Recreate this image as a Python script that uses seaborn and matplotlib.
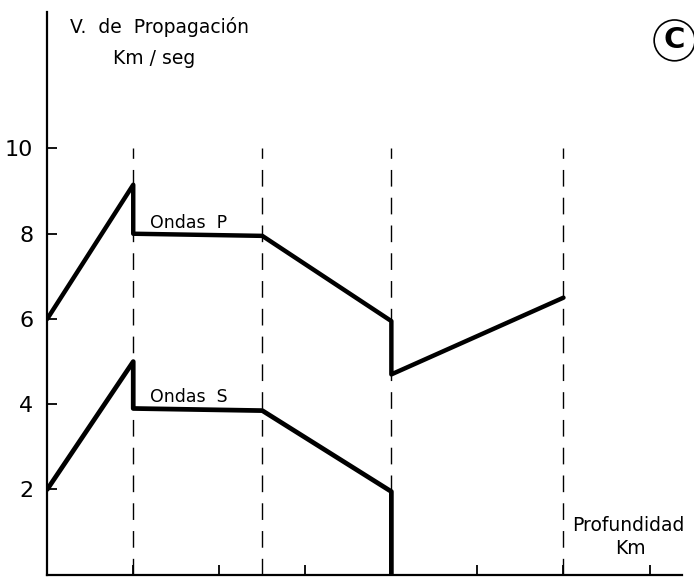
import matplotlib
matplotlib.use("Agg")
import matplotlib.pyplot as plt
import seaborn as sns
import numpy as np

sns.set_style("white")
plt.rcParams['font.family'] = ['DejaVu Sans']
plt.rcParams['text.color'] = 'black'
plt.rcParams['xtick.color'] = 'black'
plt.rcParams['ytick.color'] = 'black'

# Depth (schematic units) and velocities (km/s)
p_depth = [0, 1, 1, 2.5, 4, 4, 6]
p_vel = [6.0, 9.15, 8.0, 7.95, 5.95, 4.7, 6.5]
s_depth = [0, 1, 1, 2.5, 4, 4]
s_vel = [2.0, 5.0, 3.9, 3.85, 1.95, 0.0]
boundaries = [1, 2.5, 4, 6]
boundary_top = 10
y_ticks = [2, 4, 6, 8, 10]
x_ticks = [1, 2, 3, 4, 5, 6, 7]

fig = plt.figure(figsize=(6.94, 5.77), dpi=100)
ax = fig.add_axes([0.068, 0.004, 0.915, 0.975])

for b in boundaries:
    ax.plot([b, b], [0, boundary_top], color="black", lw=1.0,
            dashes=(12, 8), zorder=1)

sns.lineplot(x=p_depth, y=p_vel, sort=False, estimator=None, ax=ax,
             color="black", lw=3.2, zorder=3)
sns.lineplot(x=s_depth, y=s_vel, sort=False, estimator=None, ax=ax,
             color="black", lw=3.4, zorder=3)

ax.set_xlim(0, 7.38)
ax.set_ylim(0, 13.2)
ax.set_yticks(y_ticks)
ax.set_yticklabels([str(v) for v in y_ticks], fontsize=16)
ax.set_xticks(x_ticks)
ax.set_xticklabels([])
ax.tick_params(axis='y', left=True, direction='in', length=7, width=1.3,
               pad=10, colors='black')
ax.tick_params(axis='x', bottom=True, direction='in', length=7, width=1.3,
               colors='black')
for s in ["top", "right"]:
    ax.spines[s].set_visible(False)
for s in ["left", "bottom"]:
    ax.spines[s].set_color("black")
    ax.spines[s].set_linewidth(1.6)

ax.text(1.2, 8.05, "Ondas  P", fontsize=12.5, ha="left", va="bottom")
ax.text(1.2, 3.95, "Ondas  S", fontsize=12.5, ha="left", va="bottom")
ax.text(0.27, 12.85, "V.  de  Propagación", fontsize=13.5, ha="left", va="center")
ax.text(0.77, 12.1, "Km / seg", fontsize=13.5, ha="left", va="center")
ax.text(6.1, 1.15, "Profundidad", fontsize=13.5, ha="left", va="center")
ax.text(6.6, 0.62, "Km", fontsize=13.5, ha="left", va="center")

fig.text(0.972, 0.93, "C", fontsize=21, fontweight="bold", ha="center",
         va="center",
         bbox=dict(boxstyle="circle,pad=0.22", fc="white", ec="black", lw=1.2))

fig.savefig("out.png", dpi=100, facecolor="white")
